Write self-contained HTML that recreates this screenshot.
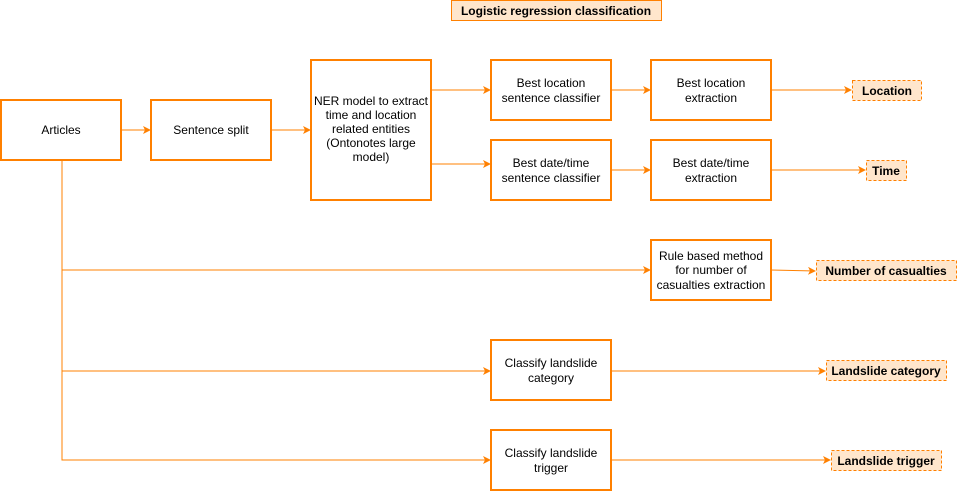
<!DOCTYPE html>
<html><head><meta charset="utf-8"><style>
body{margin:0;background:#fff;}
svg text{font-family:"Liberation Sans",Helvetica,sans-serif;font-size:12px;fill:#000;}
</style></head><body>
<svg width="957" height="492" viewBox="0 0 957 492" xmlns="http://www.w3.org/2000/svg">
<defs><marker id="a" markerWidth="8" markerHeight="8" refX="7" refY="4" orient="auto" markerUnits="userSpaceOnUse"><path d="M0,0 L8,4 L0,8 L2,4 Z" fill="#FF8000"/></marker></defs>
<g fill="none" stroke="#FF8000" stroke-width="1">
<line x1="121" y1="130" x2="150" y2="130" marker-end="url(#a)"/>
<line x1="271" y1="130" x2="310" y2="130" marker-end="url(#a)"/>
<line x1="431" y1="90" x2="490" y2="90" marker-end="url(#a)"/>
<line x1="431" y1="164" x2="490" y2="164" marker-end="url(#a)"/>
<line x1="611" y1="90" x2="650" y2="90" marker-end="url(#a)"/>
<line x1="611" y1="170" x2="650" y2="170" marker-end="url(#a)"/>
<line x1="771" y1="90" x2="851" y2="90" marker-end="url(#a)"/>
<line x1="771" y1="170" x2="865" y2="170" marker-end="url(#a)"/>
<line x1="771" y1="270" x2="815" y2="271" marker-end="url(#a)"/>
<line x1="611" y1="371" x2="825" y2="371" marker-end="url(#a)"/>
<line x1="611" y1="460" x2="830" y2="460" marker-end="url(#a)"/>
<polyline points="62,160 62,460 490,460" marker-end="url(#a)"/>
<line x1="62" y1="270" x2="650" y2="270" marker-end="url(#a)"/>
<line x1="62" y1="371" x2="490" y2="371" marker-end="url(#a)"/>
</g>
<g fill="#fff" stroke="#FF8000" stroke-width="2">
<rect x="1" y="100" width="120" height="60"/>
<rect x="151" y="100" width="120" height="60"/>
<rect x="311" y="60" width="120" height="140"/>
<rect x="491" y="60" width="120" height="60"/>
<rect x="651" y="60" width="120" height="60"/>
<rect x="491" y="140" width="120" height="60"/>
<rect x="651" y="140" width="120" height="60"/>
<rect x="651" y="240" width="120" height="60"/>
<rect x="491" y="340" width="120" height="60"/>
<rect x="491" y="430" width="120" height="60"/>
</g>
<rect x="451.5" y="0.5" width="210" height="20" fill="#FFE6CC" stroke="#FF8000"/>
<g fill="#FFE6CC" stroke="#FF8000" stroke-dasharray="3,2">
<rect x="852.5" y="80.5" width="69" height="20"/>
<rect x="866.5" y="160.5" width="40" height="20"/>
<rect x="816.5" y="260.5" width="140" height="20"/>
<rect x="826.5" y="360.5" width="120" height="20"/>
<rect x="831.5" y="450.5" width="110" height="20"/>
</g>
<g text-anchor="middle" font-weight="bold">
<text x="556" y="15" font-weight="bold">Logistic regression classification</text>
<text x="887" y="95" font-weight="bold">Location</text>
<text x="886" y="175" font-weight="bold">Time</text>
<text x="886" y="275" font-weight="bold">Number of casualties</text>
<text x="886" y="375" font-weight="bold">Landslide category</text>
<text x="886" y="465" font-weight="bold">Landslide trigger</text>
</g>
<g text-anchor="middle">
<text x="61" y="134">Articles</text>
<text x="211" y="134">Sentence split</text>
<text x="371" y="105">NER model to extract</text>
<text x="371" y="119">time and location</text>
<text x="371" y="133">related entities</text>
<text x="371" y="147">(Ontonotes large</text>
<text x="371" y="161">model)</text>
<text x="551" y="87">Best location</text>
<text x="551" y="102">sentence classifier</text>
<text x="711" y="87">Best location</text>
<text x="711" y="102">extraction</text>
<text x="551" y="167">Best date/time</text>
<text x="551" y="182">sentence classifier</text>
<text x="711" y="167">Best date/time</text>
<text x="711" y="182">extraction</text>
<text x="711" y="260">Rule based method</text>
<text x="711" y="274">for number of</text>
<text x="711" y="289">casualties extraction</text>
<text x="551" y="367">Classify landslide</text>
<text x="551" y="382">category</text>
<text x="551" y="457">Classify landslide</text>
<text x="551" y="472">trigger</text>
</g>
</svg>
</body></html>
